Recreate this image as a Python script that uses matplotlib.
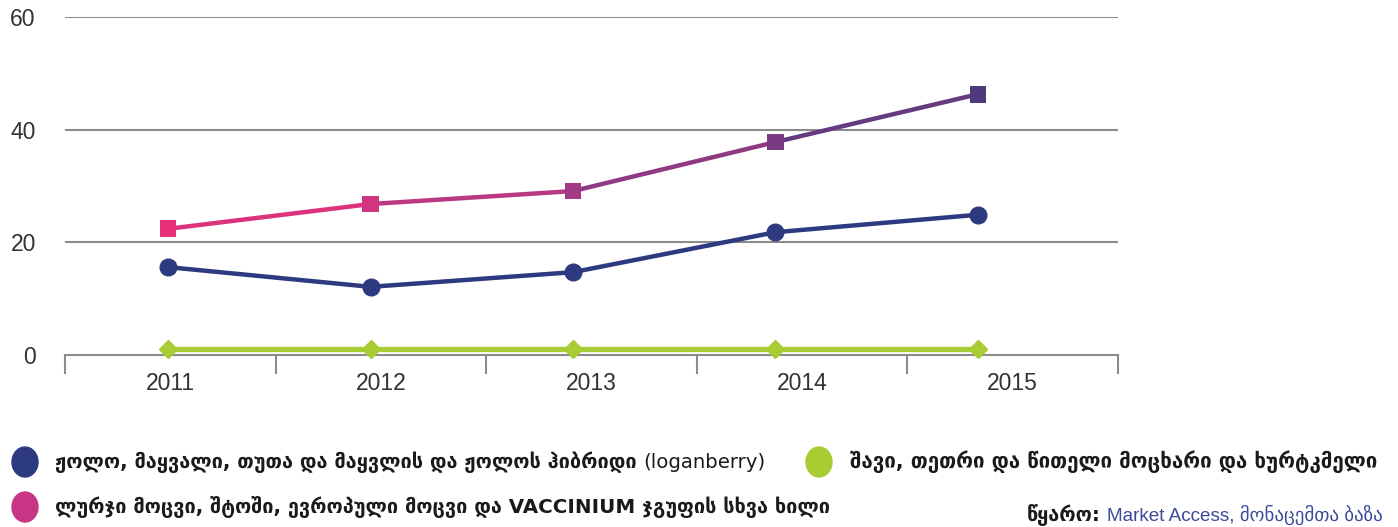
import numpy as np
import matplotlib.pyplot as plt
from matplotlib.colors import LinearSegmentedColormap
from matplotlib.patches import Ellipse
from matplotlib import font_manager

names = {f.name for f in font_manager.fontManager.ttflist}
narrow = 'Liberation Sans Narrow' if 'Liberation Sans Narrow' in names else 'Liberation Sans'
plt.rcParams['font.family'] = [narrow, 'DejaVu Sans']

years = ['2011', '2012', '2013', '2014', '2015']
raspberry = [15.6, 12.1, 14.7, 21.8, 24.9]
blueberry = [22.4, 26.8, 29.1, 37.8, 46.3]
currant = [1.0, 1.0, 1.0, 1.0, 1.0]

label_raspberry = 'ჟოლო, მაყვალი, თუთა და მაყვლის და ჟოლოს ჰიბრიდი'
label_raspberry_en = '(loganberry)'
label_currant = 'შავი, თეთრი და წითელი მოცხარი და ხურტკმელი'
label_blueberry = 'ლურჯი მოცვი, შტოში, ევროპული მოცვი და VACCINIUM ჯგუფის სხვა ხილი'

c_blue = '#2d3a7f'
c_green = '#a8cd32'
grad = LinearSegmentedColormap.from_list('pp', ['#e8317a', '#d2357f', '#a43a85', '#7b3a82', '#4f3a7e'])
grid_c = '#8c8c8c'

fig = plt.figure(figsize=(13.98, 5.27), dpi=100)
W, H = 1398, 527
ax = fig.add_axes([65 / W, (H - 355) / H, (1118 - 65) / W, (355 - 17) / H])

x = np.arange(len(years))
x0, x1 = -103 / 202.5, (1118 - 168) / 202.5
ax.set_xlim(x0, x1)
ax.set_ylim(0, 60)

for v in [20, 40, 60]:
    ax.axhline(v, color=grid_c, lw=1.5, zorder=0)

for s in ['top', 'right', 'left']:
    ax.spines[s].set_visible(False)
ax.spines['bottom'].set_color(grid_c)
ax.spines['bottom'].set_linewidth(1.5)

# category separators as major ticks, year labels centred between them
seps = np.linspace(x0, x1, len(years) + 1)
ax.set_xticks(seps)
ax.set_xticklabels([])
ax.tick_params(axis='x', length=14, width=1.5, color=grid_c)
ax.set_xticks((seps[:-1] + seps[1:]) / 2, minor=True)
ax.set_xticklabels(years, minor=True)
ax.tick_params(axis='x', which='minor', length=0, pad=12, labelsize=16.5, labelcolor='#333333')
ax.set_yticks([0, 20, 40, 60])
ax.tick_params(axis='y', length=0, pad=21, labelsize=16.5, labelcolor='#333333')

ax.plot(x, raspberry, color=c_blue, lw=3.2, marker='o', ms=12, zorder=3, clip_on=False)
ax.plot(x, currant, color=c_green, lw=3.8, marker='D', ms=9, zorder=3, clip_on=False)
cols = [grad(i / (len(x) - 1)) for i in range(len(x))]
for i in range(len(x) - 1):
    ax.plot(x[i:i + 2], blueberry[i:i + 2], color=grad((i + 0.5) / (len(x) - 1)), lw=3.2, zorder=3)
ax.scatter(x, blueberry, marker='s', s=145, c=cols, zorder=4, clip_on=False, linewidths=0)

# legend
def leg_marker(px, py, color):
    fig.patches.append(Ellipse((px / W, 1 - py / H), 26 / W, 30 / H,
                               transform=fig.transFigure, color=color))

leg_marker(25, 462, c_blue)
leg_marker(819, 462, c_green)
leg_marker(25, 507, '#c83585')
gfont = dict(family='DejaVu Sans', weight='bold', fontsize=14.3, color='#1a1a1a', va='center')
t1 = fig.text(55 / W, 1 - 462 / H, label_raspberry, **gfont)
fig.text(850 / W, 1 - 462 / H, label_currant, **dict(gfont, fontsize=14.8))
fig.text(55 / W, 1 - 507 / H, label_blueberry, **gfont)

t = fig.text(1027 / W, 1 - 515 / H, 'წყარო:', **gfont)
fig.canvas.draw()
bb1 = t1.get_window_extent()
fig.text(bb1.x1 / W + 7 / W, 1 - 462 / H, label_raspberry_en,
         family=['DejaVu Sans'], fontsize=14.2, color='#1a1a1a', va='center')
bb = t.get_window_extent()
fig.text(bb.x1 / W + 6 / W, 1 - 515 / H, 'Market Access, მონაცემთა ბაზა',
         family=[narrow, 'DejaVu Sans'], fontsize=13.6, color='#3b4a9a', va='center')

fig.savefig('out.png', dpi=100)
